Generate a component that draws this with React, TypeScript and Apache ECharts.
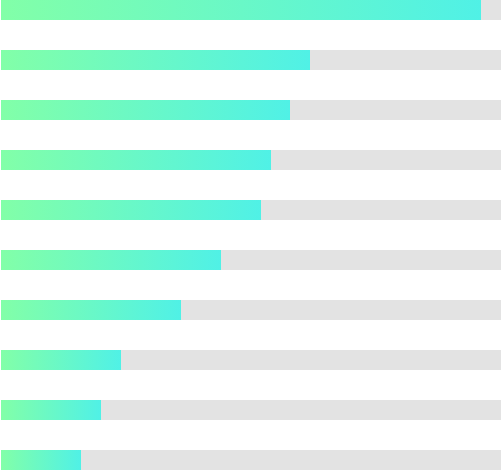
import React, { useEffect, useRef } from "react";
import * as echarts from "echarts";

const categories = ["A", "B", "C", "D", "E", "F", "G", "H", "I", "J"];
const values = [96, 61.8, 57.8, 54, 52, 44, 36, 24, 20, 16];
const maxValue = 100;

export default function App() {
  const ref = useRef<HTMLDivElement>(null);
  useEffect(() => {
    document.body.style.margin = "0";
    const chart = echarts.init(ref.current!, null, { renderer: "svg" });
    chart.setOption({
      animation: false,
      grid: { left: 1, right: 0, top: 0, bottom: 0, containLabel: false },
      xAxis: { type: "value", min: 0, max: maxValue, show: false },
      yAxis: { type: "category", data: categories, inverse: true, show: false },
      series: [
        {
          type: "bar",
          data: values,
          barWidth: 20,
          showBackground: true,
          backgroundStyle: { color: "#e3e3e3" },
          itemStyle: {
            color: new echarts.graphic.LinearGradient(0, 0, 1, 0, [
              { offset: 0, color: "#82FFA8" },
              { offset: 1, color: "#50F1E6" },
            ]),
          },
        },
      ],
    });
    return () => chart.dispose();
  }, []);
  return (
    <div style={{ width: 501, height: 470, overflow: "hidden", position: "relative" }}>
      <div ref={ref} style={{ width: 501, height: 500, position: "absolute", top: -15, left: 0 }} />
    </div>
  );
}
